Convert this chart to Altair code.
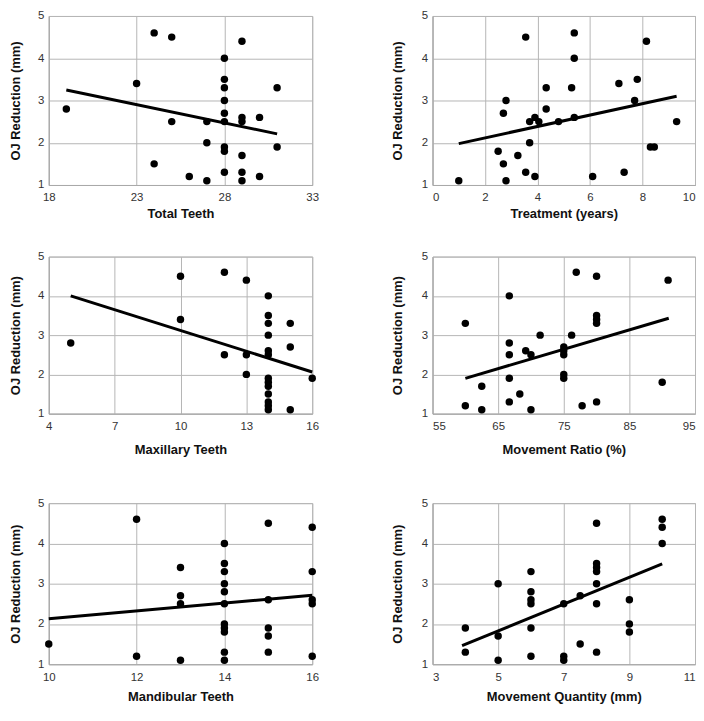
import altair as alt
import pandas as pd

Y_TITLE = "OJ Reduction (mm)"
FONT = "Liberation Sans Narrow, Arial Narrow, Liberation Sans, Arial, sans-serif"

# Panel 1: Total Teeth
total_x = [19, 23, 24, 25, 25, 24, 26, 27, 27, 27, 28, 28, 28, 28, 28, 28, 28, 28, 28,
           29, 29, 29, 29, 29, 29, 30, 30, 31, 31]
total_y = [2.8, 3.4, 4.6, 4.5, 2.5, 1.5, 1.2, 2.5, 2.0, 1.1, 4.0, 3.5, 3.3, 3.0, 2.7, 2.5, 1.9, 1.8, 1.3,
           4.4, 2.6, 2.5, 1.7, 1.3, 1.1, 2.6, 1.2, 3.3, 1.9]
total_fit_x = [19, 31]
total_fit_y = [3.25, 2.21]
total_ticks = [18, 23, 28, 33]

# Panel 2: Treatment (years)
treat_x = [1.0, 2.5, 2.7, 2.8, 2.7, 2.8, 3.25, 3.55, 3.55, 3.7, 3.7, 3.9, 3.9, 4.05, 4.33, 4.33,
           4.8, 5.3, 5.4, 5.4, 5.4, 6.1, 7.1, 7.3, 7.7, 7.8, 8.15, 8.3, 8.45, 9.3]
treat_y = [1.1, 1.8, 2.7, 3.0, 1.5, 1.1, 1.7, 4.5, 1.3, 2.5, 2.0, 2.6, 1.2, 2.5, 3.3, 2.8,
           2.5, 3.3, 4.6, 4.0, 2.6, 1.2, 3.4, 1.3, 3.0, 3.5, 4.4, 1.9, 1.9, 2.5]
treat_fit_x = [1.0, 9.3]
treat_fit_y = [1.98, 3.1]
treat_ticks = [0, 2, 4, 6, 8, 10]

# Panel 3: Maxillary Teeth
maxi_x = [5, 10, 10, 12, 12, 13, 13, 13, 14, 14, 14, 14, 14, 14, 14, 14, 14, 14, 14, 14, 14,
          15, 15, 15, 16]
maxi_y = [2.8, 4.5, 3.4, 4.6, 2.5, 4.4, 2.5, 2.0, 4.0, 3.5, 3.3, 3.0, 2.6, 2.5, 1.9, 1.8, 1.7, 1.5, 1.3, 1.2, 1.1,
          3.3, 2.7, 1.1, 1.9]
maxi_fit_x = [5, 16]
maxi_fit_y = [4.0, 2.06]
maxi_ticks = [4, 7, 10, 13, 16]

# Panel 4: Movement Ratio (%)
ratio_x = [60, 60, 62.5, 62.5, 66.7, 66.7, 66.7, 66.7, 66.7, 68.3, 69.2, 70, 70, 71.4,
           75, 75, 75, 75, 75, 76.2, 76.9, 77.8, 80, 80, 80, 80, 80, 90, 90.9]
ratio_y = [3.3, 1.2, 1.7, 1.1, 4.0, 2.8, 2.5, 1.9, 1.3, 1.5, 2.6, 2.5, 1.1, 3.0,
           2.7, 2.6, 2.5, 2.0, 1.9, 3.0, 4.6, 1.2, 4.5, 3.5, 3.4, 3.3, 1.3, 1.8, 4.4]
ratio_fit_x = [60, 91]
ratio_fit_y = [1.9, 3.43]
ratio_ticks = [55, 65, 75, 85, 95]

# Panel 5: Mandibular Teeth
mand_x = [10, 12, 12, 13, 13, 13, 13, 14, 14, 14, 14, 14, 14, 14, 14, 14, 14, 14,
          15, 15, 15, 15, 15, 16, 16, 16, 16, 16]
mand_y = [1.5, 4.6, 1.2, 3.4, 2.7, 2.5, 1.1, 4.0, 3.5, 3.3, 3.0, 2.8, 2.5, 2.0, 1.9, 1.8, 1.3, 1.1,
          4.5, 2.6, 1.9, 1.7, 1.3, 4.4, 3.3, 2.6, 2.5, 1.2]
mand_fit_x = [10, 16]
mand_fit_y = [2.13, 2.71]
mand_ticks = [10, 12, 14, 16]

# Panel 6: Movement Quantity (mm)
quant_x = [4, 4, 5, 5, 5, 6, 6, 6, 6, 6, 6, 7, 7, 7, 7.5, 7.5,
           8, 8, 8, 8, 8, 8, 8, 9, 9, 9, 10, 10, 10]
quant_y = [1.9, 1.3, 3.0, 1.7, 1.1, 3.3, 2.8, 2.6, 2.5, 1.9, 1.2, 2.5, 1.2, 1.1, 2.7, 1.5,
           4.5, 3.5, 3.4, 3.3, 3.0, 2.5, 1.3, 2.6, 2.0, 1.8, 4.6, 4.4, 4.0]
quant_fit_x = [3.9, 10]
quant_fit_y = [1.46, 3.49]
quant_ticks = [3, 5, 7, 9, 11]

y_ticks = [1, 2, 3, 4, 5]

LEFT_W = 265
RIGHT_W = 264


def panel(xs, ys, fx, fy, title, ticks, width, height, y_title_pad, x_title_pad,
          flush, extend=None):
    pts = pd.DataFrame({"x": xs, "y": ys})
    fit = pd.DataFrame({"x": fx, "y": fy})
    xsc = alt.Scale(domain=[ticks[0], ticks[-1]], nice=False, zero=False)
    ysc = alt.Scale(domain=[1, 5], nice=False, zero=False)
    xax = alt.Axis(values=ticks, tickCount=len(ticks), title=title, labelPadding=7,
                   titlePadding=x_title_pad, labelOverlap=False, labelFlush=flush)
    yax = alt.Axis(values=y_ticks, tickCount=5, title=Y_TITLE, labelPadding=5,
                   titlePadding=y_title_pad, labelOverlap=False)
    line = alt.Chart(fit).mark_line(color="black", strokeWidth=3).encode(
        x=alt.X("x:Q", scale=xsc, axis=xax),
        y=alt.Y("y:Q", scale=ysc, axis=yax),
    )
    dots = alt.Chart(pts).mark_circle(size=56, color="black", opacity=1).encode(
        x=alt.X("x:Q", scale=xsc, axis=xax),
        y=alt.Y("y:Q", scale=ysc, axis=yax),
    )
    layers = [line, dots]
    if extend is not None:
        spacer = alt.Chart(pd.DataFrame({"a": [0]})).mark_rule(opacity=0, strokeOpacity=0).encode(
            x=alt.value(0), x2=alt.value(1), y=alt.value(height + extend)
        )
        layers.append(spacer)
    return alt.layer(*layers).properties(width=width, height=height)


H_SPACE = 72
YPAD_L = 15.5
YPAD_R = 17

row1 = alt.hconcat(
    panel(total_x, total_y, total_fit_x, total_fit_y, "Total Teeth", total_ticks,
          LEFT_W, 170, YPAD_L, 4, False),
    panel(treat_x, treat_y, treat_fit_x, treat_fit_y, "Treatment (years)", treat_ticks,
          RIGHT_W, 170, YPAD_R, 4, True),
    spacing=H_SPACE,
)
row2 = alt.hconcat(
    panel(maxi_x, maxi_y, maxi_fit_x, maxi_fit_y, "Maxillary Teeth", maxi_ticks,
          LEFT_W, 158, YPAD_L, 12, False, extend=53),
    panel(ratio_x, ratio_y, ratio_fit_x, ratio_fit_y, "Movement Ratio (%)", ratio_ticks,
          RIGHT_W, 158, YPAD_R, 12, True, extend=53),
    spacing=H_SPACE,
)
row3 = alt.hconcat(
    panel(mand_x, mand_y, mand_fit_x, mand_fit_y, "Mandibular Teeth", mand_ticks,
          LEFT_W, 162, YPAD_L, 8, False),
    panel(quant_x, quant_y, quant_fit_x, quant_fit_y, "Movement Quantity (mm)", quant_ticks,
          RIGHT_W, 162, YPAD_R, 8, True),
    spacing=H_SPACE,
)

chart = alt.vconcat(row1, row2, row3, spacing=29).properties(
    padding={"left": 0, "top": -1, "right": 0, "bottom": 0}
).configure_axis(
    labelFont=FONT,
    labelFontSize=11.5,
    labelColor="#333333",
    titleFont=FONT,
    titleFontSize=13,
    titleFontWeight="bold",
    titleColor="#111111",
    grid=True,
    gridColor="#b5b5b5",
    gridWidth=1,
    ticks=False,
    tickSize=0,
    domainColor="#a8a8a8",
).configure_view(
    stroke="#b5b5b5",
    strokeWidth=1,
)

chart.save("out.html", embed_options={"renderer": "svg", "actions": False})
